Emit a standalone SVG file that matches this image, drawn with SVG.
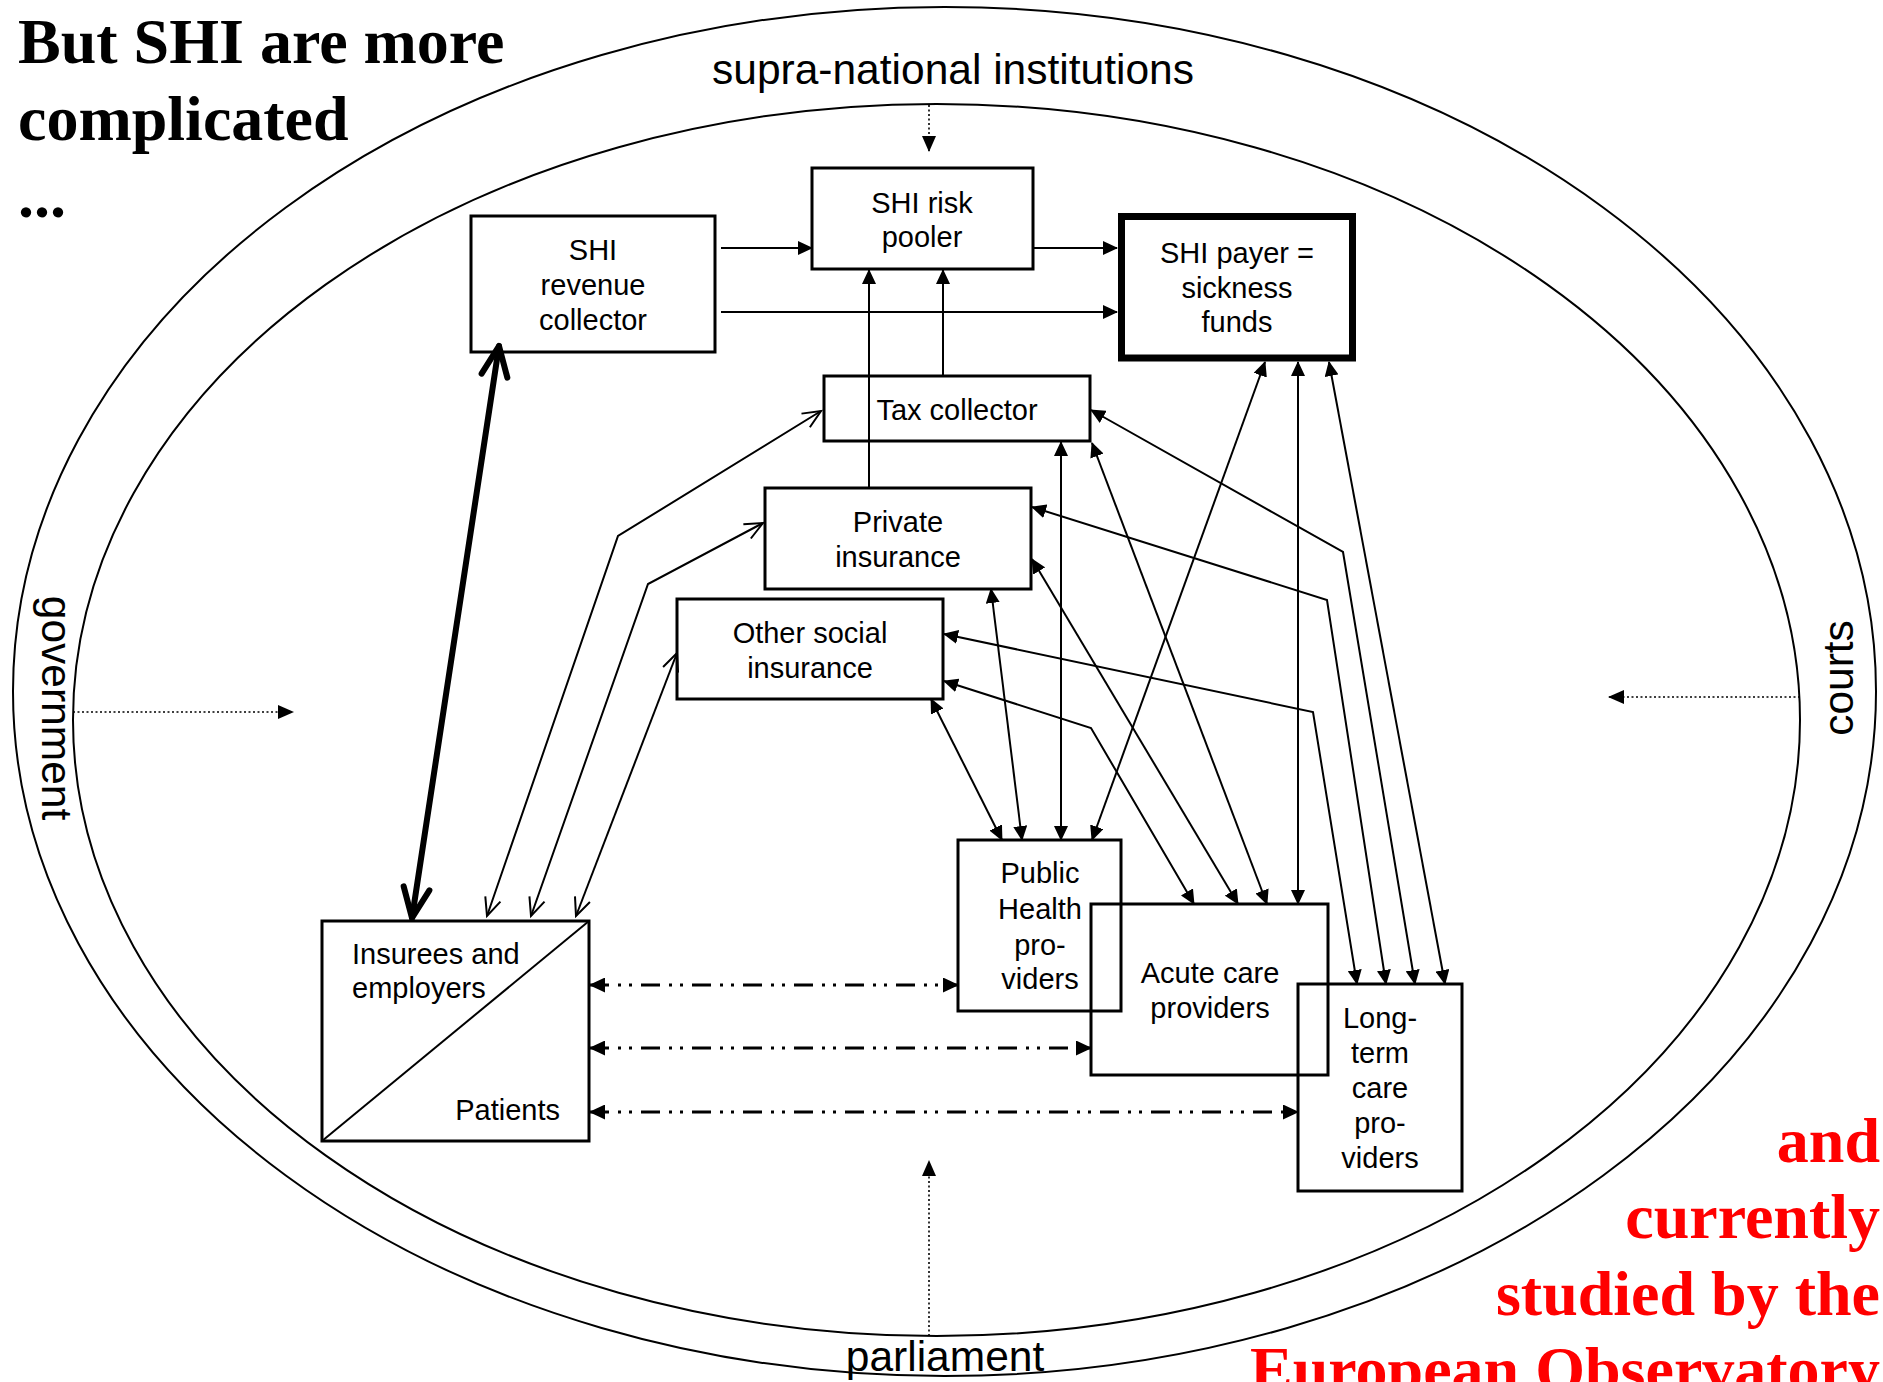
<svg xmlns="http://www.w3.org/2000/svg" width="1883" height="1382" viewBox="0 0 1883 1382">
<style>
.box{fill:none;stroke:#000;stroke-width:3}
.lbl{font-family:"Liberation Sans",Arial,Helvetica,sans-serif;font-size:29px;fill:#000;text-anchor:middle}
.ring{font-family:"Liberation Sans",Arial,Helvetica,sans-serif;font-size:42.5px;fill:#000;text-anchor:middle}
.title{font-family:"Liberation Serif","Times New Roman",serif;font-weight:bold;font-size:64px;fill:#000}
.red{font-family:"Liberation Serif","Times New Roman",serif;font-weight:bold;font-size:64px;fill:#ff0000;text-anchor:end}
.ell{fill:none;stroke:#000;stroke-width:2}
.ln{fill:none;stroke:#000;stroke-width:2}
.one{marker-end:url(#ah)}
.two{marker-start:url(#ah);marker-end:url(#ah)}
.open{fill:none;stroke:#000;stroke-width:2;marker-start:url(#vo);marker-end:url(#vo)}
.thick{fill:none;stroke:#000;stroke-width:6;stroke-linecap:round;marker-start:url(#chev);marker-end:url(#chev)}
.dd{fill:none;stroke:#000;stroke-width:3;stroke-dasharray:19 9 3 8 3 9;marker-start:url(#ahd);marker-end:url(#ahd)}
.dot{fill:none;stroke:#000;stroke-width:1.6;stroke-dasharray:2 2.5;marker-end:url(#ahp)}
</style>
<defs>
<marker id="ah" viewBox="0 0 15 14" refX="14" refY="7" markerWidth="15" markerHeight="14" markerUnits="userSpaceOnUse" orient="auto-start-reverse"><path d="M0,0 L15,7 L0,14 z" fill="#000"/></marker>
<marker id="ahd" viewBox="0 0 16 15" refX="15" refY="7.5" markerWidth="16" markerHeight="15" markerUnits="userSpaceOnUse" orient="auto-start-reverse"><path d="M0,0 L16,7.5 L0,15 z" fill="#000"/></marker>
<marker id="ahp" viewBox="0 0 16 14" refX="15" refY="7" markerWidth="16" markerHeight="14" markerUnits="userSpaceOnUse" orient="auto"><path d="M0,0 L16,7 L0,14 z" fill="#000"/></marker>
<marker id="vo" viewBox="-20 -10 22 20" refX="0" refY="0" markerWidth="22" markerHeight="20" markerUnits="userSpaceOnUse" orient="auto-start-reverse" overflow="visible"><path d="M-18,-8 L0,0 L-18,8" fill="none" stroke="#000" stroke-width="2"/></marker>
<marker id="chev" viewBox="-36 -18 40 36" refX="0" refY="0" markerWidth="40" markerHeight="36" markerUnits="userSpaceOnUse" orient="auto-start-reverse" overflow="visible"><path d="M-30,-13 L0,0 L-30,13" fill="none" stroke="#000" stroke-width="6" stroke-linecap="round" stroke-linejoin="round"/></marker>
</defs>
<rect width="1883" height="1382" fill="#fff"/>

<g id="rings">
<ellipse class="ell" cx="944.5" cy="691.5" rx="931.5" ry="684.5"/>
<ellipse class="ell" cx="936.5" cy="720" rx="863.5" ry="616"/>
<text class="ring" x="953" y="84">supra-national institutions</text>
<text class="ring" transform="translate(42,708) rotate(90)">government</text>
<text class="ring" transform="translate(1853,678) rotate(-90)">courts</text>
<text class="ring" x="945" y="1371">parliament</text>
</g>

<g id="title">
<text class="title" x="18" y="63">But SHI are more</text>
<text class="title" x="18" y="140">complicated</text>
<text class="title" x="18" y="217">...</text>
</g>

<g id="note">
<text class="red" x="1880" y="1162">and</text>
<text class="red" x="1880" y="1238">currently</text>
<text class="red" x="1880" y="1315">studied by the</text>
<text class="red" x="1880" y="1391">European Observatory</text>
</g>

<g id="connectors">
<path class="ln one" d="M721,248 H812"/>
<path class="ln one" d="M721,312 H1117"/>
<path class="ln one" d="M1033,248 H1117"/>
<path class="ln one" d="M869,488 V270"/>
<path class="ln one" d="M943,376 V270"/>
<path class="ln two" d="M1265,362 L1092,840"/>
<path class="ln two" d="M1298,362 L1298,904"/>
<path class="ln two" d="M1329,362 L1445,984"/>
<path class="ln two" d="M1091,410 L1343,552 L1415,984"/>
<path class="ln two" d="M1092,443 L1267,904"/>
<path class="ln two" d="M1061,442 L1061,840"/>
<path class="ln two" d="M1032,507 L1327,600 L1386,984"/>
<path class="ln two" d="M1032,559 L1238,904"/>
<path class="ln two" d="M991,589 L1022,840"/>
<path class="ln two" d="M944,634 L1313,712 L1357,984"/>
<path class="ln two" d="M944,681 L1091,728 L1194,904"/>
<path class="ln two" d="M931,699 L1002,840"/>
<path class="open" d="M487,916 L618,536 L821,411"/>
<path class="open" d="M531,916 L648,584 L763,523"/>
<path class="open" d="M576,916 L677,653"/>
<path class="thick" d="M499,346 L412,918"/>
<path class="dd" d="M590,985 H958"/>
<path class="dd" d="M590,1048 H1091"/>
<path class="dd" d="M590,1112 H1298"/>
<path class="dot" d="M929,105 V151"/>
<path class="dot" d="M73,712 H293"/>
<path class="dot" d="M1800,697 H1609"/>
<path class="dot" d="M929,1336 V1161"/>
</g>

<g id="revenue-collector">
<rect class="box" x="471" y="216" width="244" height="136"/>
<text class="lbl" x="593" y="260">SHI</text>
<text class="lbl" x="593" y="295">revenue</text>
<text class="lbl" x="593" y="330">collector</text>
</g>

<g id="risk-pooler">
<rect class="box" x="812" y="168" width="221" height="101"/>
<text class="lbl" x="922" y="213">SHI risk</text>
<text class="lbl" x="922" y="247">pooler</text>
</g>

<g id="shi-payer">
<rect x="1121.5" y="216.5" width="231" height="141.5" fill="none" stroke="#000" stroke-width="7"/>
<text class="lbl" x="1237" y="263">SHI payer =</text>
<text class="lbl" x="1237" y="298">sickness</text>
<text class="lbl" x="1237" y="332">funds</text>
</g>

<g id="tax-collector">
<rect class="box" x="824" y="376" width="266" height="65"/>
<text class="lbl" x="957" y="420">Tax collector</text>
</g>

<g id="private-insurance">
<rect class="box" x="765" y="488" width="266" height="101"/>
<text class="lbl" x="898" y="532">Private</text>
<text class="lbl" x="898" y="567">insurance</text>
</g>

<g id="other-social-insurance">
<rect class="box" x="677" y="599" width="266" height="100"/>
<text class="lbl" x="810" y="643">Other social</text>
<text class="lbl" x="810" y="678">insurance</text>
</g>

<g id="insurees-patients">
<rect class="box" x="322" y="921" width="267" height="220"/>
<line x1="322" y1="1141" x2="589" y2="921" stroke="#000" stroke-width="2"/>
<text class="lbl" x="352" y="964" style="text-anchor:start">Insurees and</text>
<text class="lbl" x="352" y="998" style="text-anchor:start">employers</text>
<text class="lbl" x="560" y="1120" style="text-anchor:end">Patients</text>
</g>

<g id="public-health">
<rect class="box" x="958" y="840" width="163" height="171"/>
<text class="lbl" x="1040" y="883">Public</text>
<text class="lbl" x="1040" y="919">Health</text>
<text class="lbl" x="1040" y="955">pro-</text>
<text class="lbl" x="1040" y="989">viders</text>
</g>

<g id="acute-care">
<rect class="box" x="1091" y="904" width="237" height="171"/>
<text class="lbl" x="1210" y="983">Acute care</text>
<text class="lbl" x="1210" y="1018">providers</text>
</g>

<g id="long-term-care">
<rect class="box" x="1298" y="984" width="164" height="207"/>
<text class="lbl" x="1380" y="1028">Long-</text>
<text class="lbl" x="1380" y="1063">term</text>
<text class="lbl" x="1380" y="1098">care</text>
<text class="lbl" x="1380" y="1133">pro-</text>
<text class="lbl" x="1380" y="1168">viders</text>
</g>
</svg>
